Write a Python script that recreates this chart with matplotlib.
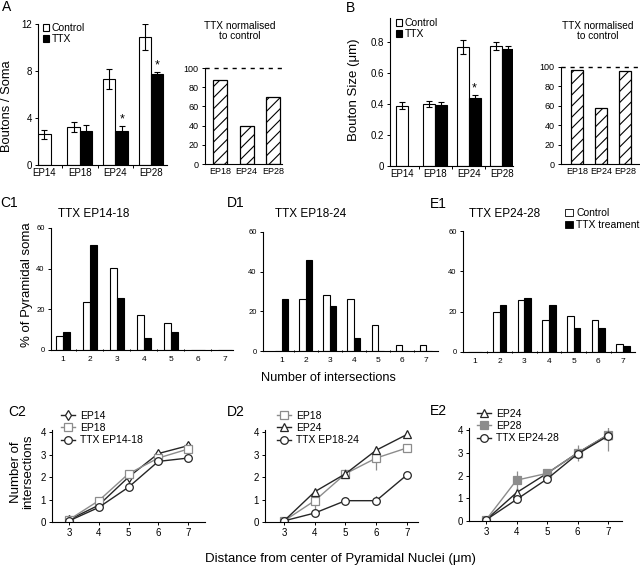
"""Bouton counts/sizes and Sholl intersection panels (A, B, C1-E2)."""

import numpy as np
import matplotlib
matplotlib.use("Agg")
import matplotlib.pyplot as plt
from matplotlib.patches import Patch

plt.rcParams["font.family"] = ["Liberation Sans", "DejaVu Sans"]
plt.rcParams["hatch.linewidth"] = 0.8
plt.rcParams["axes.linewidth"] = 0.8

W, H = 640, 567

# --- data ------------------------------------------------------------------
groups = ["EP14", "EP18", "EP24", "EP28"]
norm_groups = ["EP18", "EP24", "EP28"]

boutons_ctrl = [2.6, 3.25, 7.3, 10.9]
boutons_ctrl_err = [0.4, 0.45, 0.85, 1.1]
boutons_ttx = [2.9, 2.9, 7.75]          # EP18, EP24, EP28
boutons_ttx_err = [0.5, 0.45, 0.2]
boutons_sig = [False, True, True]
boutons_norm = [88, 40, 70]

size_ctrl = [0.39, 0.40, 0.765, 0.775]
size_ctrl_err = [0.025, 0.02, 0.045, 0.025]
size_ttx = [0.395, 0.44, 0.755]
size_ttx_err = [0.02, 0.02, 0.02]
size_sig = [False, True, False]
size_norm = [97, 58, 96]

n_inter = [1, 2, 3, 4, 5, 6, 7]
c1_ctrl = [6.9, 23.4, 40.1, 17.1, 13.3, 0, 0]
c1_ttx = [8.9, 51.8, 25.7, 6.1, 8.9, 0, 0]
d1_ctrl = [0, 26.4, 28.0, 26.4, 13.1, 3.2, 3.2]
d1_ttx = [26.0, 45.7, 22.7, 6.6, 0, 0, 0]
e1_ctrl = [0, 19.8, 25.9, 15.9, 17.9, 15.9, 3.8]
e1_ttx = [0, 23.5, 26.6, 23.5, 11.9, 11.9, 2.8]

distance = [3, 4, 5, 6, 7]
c2_ep14 = [0.1, 0.75, 2.0, 3.05, 3.4]
c2_ep14_err = [0.05, 0.15, 0.3, 0.15, 0.15]
c2_ep18 = [0.1, 0.95, 2.15, 2.85, 3.25]
c2_ep18_err = [0.05, 0.15, 0.15, 0.15, 0.2]
c2_ttx = [0.05, 0.65, 1.55, 2.7, 2.85]
c2_ttx_err = [0.05, 0.1, 0.1, 0.15, 0.15]

d2_ep18 = [0.05, 0.95, 2.15, 2.85, 3.3]
d2_ep18_err = [0.05, 0.5, 0.2, 0.55, 0.15]
d2_ep24 = [0.05, 1.35, 2.15, 3.2, 3.9]
d2_ep24_err = [0.05, 0.1, 0.15, 0.15, 0.15]
d2_ttx = [0.05, 0.4, 0.95, 0.95, 2.1]
d2_ttx_err = [0.05, 0.1, 0.1, 0.2, 0.15]

e2_ep24 = [0.05, 1.25, 2.1, 3.0, 3.8]
e2_ep24_err = [0.05, 0.2, 0.15, 0.15, 0.2]
e2_ep28 = [0.05, 1.8, 2.1, 3.0, 3.8]
e2_ep28_err = [0.05, 0.4, 0.2, 0.35, 0.7]
e2_ttx = [0.05, 0.95, 1.85, 2.95, 3.75]
e2_ttx_err = [0.05, 0.15, 0.15, 0.15, 0.2]

DARK = "#262626"
GREY = "#8c8c8c"


def px_axes(fig, left, top, right, bottom):
    return fig.add_axes([left / W, 1 - bottom / H, (right - left) / W, (bottom - top) / H])


def ftext(fig, x, y, s, **kw):
    fig.text(x / W, 1 - y / H, s, **kw)


def style(ax, fs=7):
    for s in ("top", "right"):
        ax.spines[s].set_visible(False)
    ax.tick_params(direction="out", length=2.5, width=0.7, labelsize=fs, pad=2)


fig = plt.figure(figsize=(W / 100, H / 100), dpi=100)

# --- A / B main bar charts -------------------------------------------------
def main_bars(ax, ctrl, ctrl_err, ttx, ttx_err, sig, width):
    pos = np.arange(len(groups))
    x_ctrl = pos - width / 2
    x_ctrl[0] = pos[0]
    ax.bar(x_ctrl, ctrl, width, color="white", edgecolor="black", lw=0.8,
           yerr=ctrl_err, error_kw=dict(elinewidth=0.8, capsize=2.5, capthick=0.8))
    x_ttx = pos[1:] + width / 2
    ax.bar(x_ttx, ttx, width, color="black", edgecolor="black", lw=0.8,
           yerr=ttx_err, error_kw=dict(elinewidth=0.8, capsize=2.5, capthick=0.8))
    for x, v, e, s in zip(x_ttx, ttx, ttx_err, sig):
        if s:
            ax.text(x, v + e, "*", ha="center", va="bottom", fontsize=9)
    ax.set_xticks(pos)
    ax.set_xticklabels(groups)
    ax.tick_params(axis="x", length=0)
    ax.set_xticks(pos[:-1] + 0.5, minor=True)
    ax.tick_params(axis="x", which="minor", length=2, width=0.7)
    ax.legend([Patch(facecolor="white", edgecolor="black", lw=0.8),
               Patch(facecolor="black", edgecolor="black", lw=0.8)],
              ["Control", "TTX"], loc="upper left", frameon=False, fontsize=7.5,
              handlelength=0.6, handleheight=0.6, handletextpad=0.25,
              labelspacing=0.1, borderpad=0, borderaxespad=0)


axA = px_axes(fig, 38, 24, 167, 165)
style(axA)
axA.set_ylim(0, 12)
main_bars(axA, boutons_ctrl, boutons_ctrl_err, boutons_ttx, boutons_ttx_err, boutons_sig, 0.35)
axA.set_xlim(-0.18, 3.45)
axA.set_yticks([0, 4, 8, 12])
axA.legend_.set_bbox_to_anchor((43 / W, 1 - 23 / H), transform=fig.transFigure)

axB = px_axes(fig, 390, 18, 513, 166)
style(axB)
axB.set_ylim(0, 0.955)
main_bars(axB, size_ctrl, size_ctrl_err, size_ttx, size_ttx_err, size_sig, 0.36)
axB.set_xlim(-0.36, 3.33)
axB.set_yticks([0, 0.2, 0.4, 0.6, 0.8])
axB.set_yticklabels(["0", "0.2", "0.4", "0.6", "0.8"])
axB.legend_.set_bbox_to_anchor((396 / W, 1 - 18 / H), transform=fig.transFigure)


# --- normalised insets -----------------------------------------------------
def norm_inset(ax, vals, width, xlim):
    pos = np.arange(1, len(norm_groups) + 1)
    ax.bar(pos, vals, width, color="white", edgecolor="black", lw=0.9, hatch="///")
    ax.axhline(100, color="black", lw=1.0, ls=(0, (3, 3.5)), clip_on=False)
    ax.set_ylim(0, 100)
    ax.set_xlim(*xlim)
    ax.set_xticks(pos)
    ax.set_xticklabels(norm_groups)
    ax.tick_params(axis="x", length=0)
    ax.set_yticks(range(0, 101, 20))


axAn = px_axes(fig, 205, 68, 282, 164)
style(axAn, fs=6.5)
norm_inset(axAn, boutons_norm, 0.53, (0.43, 3.34))

axBn = px_axes(fig, 561, 67, 639, 164)
style(axBn, fs=6.5)
norm_inset(axBn, size_norm, 0.5, (0.34, 3.58))

ftext(fig, 240, 31, "TTX normalised\nto control", ha="center", va="center",
      fontsize=7.3, linespacing=1.0)
ftext(fig, 598, 31, "TTX normalised\nto control", ha="center", va="center",
      fontsize=7.3, linespacing=1.0)

ftext(fig, 7, 106, "Boutons / Soma", rotation=90, ha="center", va="center", fontsize=9.3)
ftext(fig, 354, 90, "Bouton Size (\u03bcm)", rotation=90, ha="center", va="center", fontsize=9.5)


# --- C1 / D1 / E1 histograms -----------------------------------------------
def hist_panel(ax, ctrl, ttx, xlim, width=0.27):
    x = np.array(n_inter)
    ax.bar(x - width / 2, ctrl, width, color="white", edgecolor="black", lw=0.8)
    ax.bar(x + width / 2, ttx, width, color="black", edgecolor="black", lw=0.8)
    ax.set_ylim(0, 60)
    ax.set_yticks([0, 20, 40, 60])
    ax.set_xlim(*xlim)
    ax.set_xticks(x)
    ax.tick_params(axis="x", length=0, pad=4)
    ax.set_xticks(x[:-1] + 0.5, minor=True)
    ax.tick_params(axis="x", which="minor", length=2, width=0.7, direction="inout")
    ax.tick_params(axis="y", labelsize=5.5)


axC1 = px_axes(fig, 51, 228, 233, 350)
style(axC1, fs=6)
hist_panel(axC1, c1_ctrl, c1_ttx, (0.56, 7.3))

axD1 = px_axes(fig, 263, 232, 438, 351)
style(axD1, fs=6)
hist_panel(axD1, d1_ctrl, d1_ttx, (0.21, 7.5))

axE1 = px_axes(fig, 463, 231, 635, 352)
style(axE1, fs=6)
hist_panel(axE1, e1_ctrl, e1_ttx, (0.51, 7.49))

ftext(fig, 94, 214, "TTX EP14-18", ha="center", va="center", fontsize=8.5)
ftext(fig, 311, 214, "TTX EP18-24", ha="center", va="center", fontsize=8.5)
ftext(fig, 505, 214, "TTX EP24-28", ha="center", va="center", fontsize=8.5)

fig.legend([Patch(facecolor="white", edgecolor="black", lw=0.6),
            Patch(facecolor="black", edgecolor="black", lw=0.6)],
           ["Control", "TTX treament"], loc="upper left",
           bbox_to_anchor=(565 / W, 1 - 208 / H), frameon=False, fontsize=7.5,
           handlelength=0.75, handleheight=0.75, handletextpad=0.35,
           labelspacing=0.2, borderpad=0, borderaxespad=0)

ftext(fig, 27, 285, "% of Pyramidal soma", rotation=90, ha="center", va="center", fontsize=9.5)
ftext(fig, 328, 378, "Number of intersections", ha="center", va="center", fontsize=9.2)


# --- C2 / D2 / E2 Sholl curves --------------------------------------------
def sholl_panel(ax, series, xlim):
    handles = []
    for y, err, label, color, marker, face in series:
        ax.errorbar(distance, y, yerr=err, fmt="none", ecolor=color,
                    elinewidth=0.9, capsize=0)
        (ln,) = ax.plot(distance, y, color=color, lw=1.0, marker=marker, ms=5.5,
                        mfc=face, mec=color, mew=0.9, label=label)
        handles.append(ln)
    ax.set_xlim(*xlim)
    ax.set_ylim(0, 4.1)
    ax.set_xticks(distance)
    ax.set_yticks([0, 1, 2, 3, 4])
    ax.tick_params(labelsize=7)
    return handles


def sholl_legend(ax, handles, x, y):
    ax.legend(handles=handles, loc="upper left", bbox_to_anchor=(x / W, 1 - y / H),
              bbox_transform=fig.transFigure, frameon=False, fontsize=7.5,
              handlelength=1.3, handletextpad=0.5, labelspacing=0.2,
              borderpad=0, borderaxespad=0)


axC2 = px_axes(fig, 52, 430, 205, 522)
style(axC2)
h = sholl_panel(axC2, [
    (c2_ep14, c2_ep14_err, "EP14", DARK, "d", "white"),
    (c2_ep18, c2_ep18_err, "EP18", GREY, "s", "white"),
    (c2_ttx, c2_ttx_err, "TTX EP14-18", DARK, "o", "white"),
], (2.43, 7.57))
sholl_legend(axC2, h, 61, 411)

axD2 = px_axes(fig, 265, 430, 418, 522)
style(axD2)
h = sholl_panel(axD2, [
    (d2_ep18, d2_ep18_err, "EP18", GREY, "s", "white"),
    (d2_ep24, d2_ep24_err, "EP24", DARK, "^", "white"),
    (d2_ttx, d2_ttx_err, "TTX EP18-24", DARK, "o", "white"),
], (2.38, 7.36))
sholl_legend(axD2, h, 277, 411)

axE2 = px_axes(fig, 469, 428, 622, 521)
style(axE2)
h = sholl_panel(axE2, [
    (e2_ep24, e2_ep24_err, "EP24", DARK, "^", "white"),
    (e2_ep28, e2_ep28_err, "EP28", GREY, "s", GREY),
    (e2_ttx, e2_ttx_err, "TTX EP24-28", DARK, "o", "white"),
], (2.44, 7.46))
sholl_legend(axE2, h, 477, 409)

ftext(fig, 22, 472, "Number of\nintersections", rotation=90, ha="center", va="center",
      fontsize=9.5, linespacing=0.95)
ftext(fig, 340, 559, "Distance from center of Pyramidal Nuclei (\u03bcm)",
      ha="center", va="center", fontsize=9.5)

# --- panel letters -----------------------------------------------------------
for label, x, y in [("A", 2, 7), ("B", 346, 8), ("C1", 0, 203), ("D1", 227, 203),
                    ("E1", 430, 204), ("C2", 8, 412), ("D2", 227, 412), ("E2", 430, 411)]:
    ftext(fig, x, y, label, ha="left", va="center", fontsize=10)

fig.savefig("out.png", dpi=100)
